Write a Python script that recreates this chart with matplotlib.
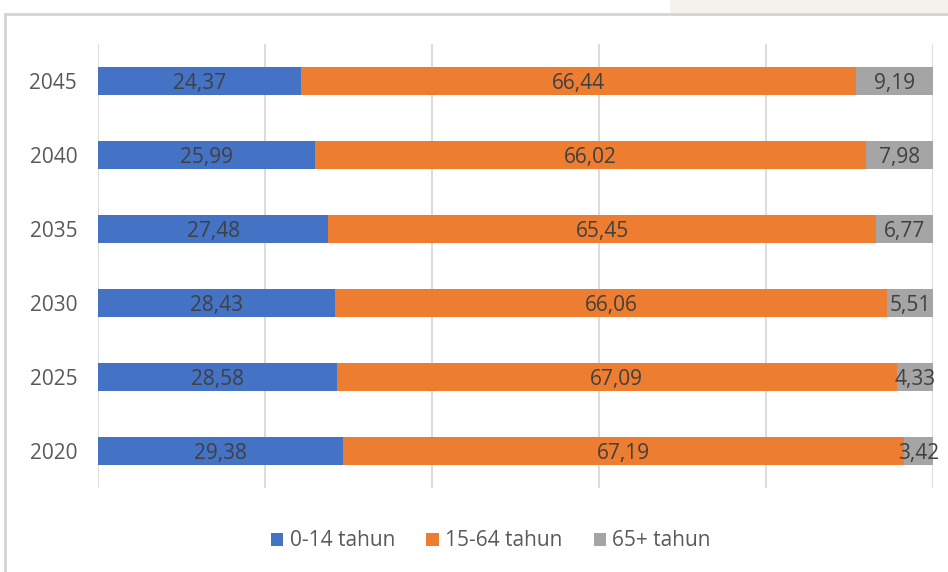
import matplotlib.pyplot as plt
from matplotlib.patches import Rectangle
import numpy as np

years = ["2020", "2025", "2030", "2035", "2040", "2045"]
anak = [29.38, 28.58, 28.43, 27.48, 25.99, 24.37]
produktif = [67.19, 67.09, 66.06, 65.45, 66.02, 66.44]
lansia = [3.42, 4.33, 5.51, 6.77, 7.98, 9.19]

series = [
    ("0-14 tahun", anak, "#4472C4"),
    ("15-64 tahun", produktif, "#ED7D31"),
    ("65+ tahun", lansia, "#A5A5A5"),
]

plt.rcParams["font.family"] = ["Open Sans", "DejaVu Sans"]

W, H = 948, 572
fig = plt.figure(figsize=(W / 100, H / 100), dpi=100)

# chart frame and faded background strip at the top right
fig.patches.append(Rectangle((670 / W, 1 - 13 / H), 1, 13 / H, transform=fig.transFigure,
                             facecolor="#f5f2ee", edgecolor="none", zorder=-2))
fig.patches.append(Rectangle((5 / W, -0.1), 1.2, 1.1 - 14 / H, transform=fig.transFigure,
                             facecolor="white", edgecolor="#d4d4d4", linewidth=2, zorder=-1))

ax = fig.add_axes([98 / W, 1 - 488 / H, (933 - 98) / W, (488 - 44) / H])
ax.set_facecolor("none")

# 100% stacked: bar lengths are shares of each row total, labels show raw values
totals = np.array(anak) + np.array(produktif) + np.array(lansia)
y = np.arange(len(years))
left = np.zeros(len(years))
for name, vals, color in series:
    share = np.array(vals) / totals * 100
    bars = ax.barh(y, share, left=left, height=0.39, color=color, label=name, zorder=3)
    labels = [f"{v:.2f}".replace(".", ",") for v in vals]
    anns = ax.bar_label(bars, labels=labels, label_type="center", fontsize=15,
                        color="#404040", zorder=4)
    for a in anns:
        a.xyann = (0, -2)
    left = left + share

ax.set_xlim(0, 100)
ax.set_ylim(-0.5, 5.5)
ax.set_xticks(np.arange(0, 101, 20))
ax.set_xticklabels([])
ax.tick_params(axis="x", length=0)
ax.tick_params(axis="y", length=0, pad=15, labelsize=15, labelcolor="#595959")
ax.set_yticks(y)
ax.set_yticklabels(years)
ax.grid(axis="x", color="#d9d9d9", linewidth=1.3, zorder=0)
for s in ax.spines.values():
    s.set_visible(False)

ax.legend(loc="center", bbox_to_anchor=(491 / W, 1 - 541 / H), bbox_transform=fig.transFigure,
          ncol=3, frameon=False, fontsize=15, handlelength=0.6, handleheight=0.6,
          handletextpad=0.3, columnspacing=1.5, labelcolor="#595959")

fig.savefig("out.png", dpi=100)
